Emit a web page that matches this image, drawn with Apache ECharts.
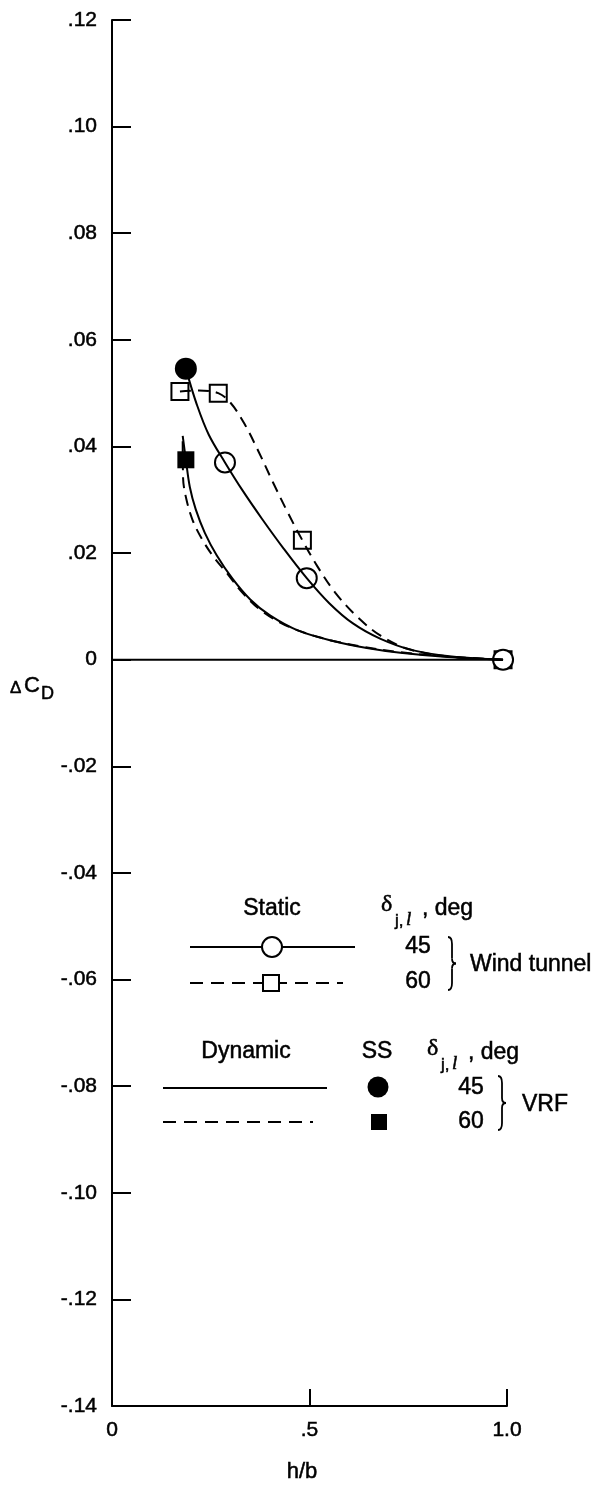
<!DOCTYPE html>
<html><head><meta charset="utf-8">
<script src="https://cdn.jsdelivr.net/npm/echarts@6/dist/echarts.min.js"></script>
<style>html,body{margin:0;padding:0;background:#fff}#c{width:611px;height:1489px}</style>
</head><body><div id="c"></div>
<script>
// ---- tick labels ----
const xTickValues = [0, 0.5, 1.0];
const xTickLabels = ['0', '.5', '1.0'];
const yTickValues = [-0.14, -0.12, -0.10, -0.08, -0.06, -0.04, -0.02, 0, 0.02, 0.04, 0.06, 0.08, 0.10, 0.12];
const yTickLabels = ['-.14', '-.12', '-.10', '-.08', '-.06', '-.04', '-.02', '0', '.02', '.04', '.06', '.08', '.10', '.12'];

// ---- measured points (h/b, dCD) ----
const static45Pts = [[0.286, 0.037], [0.493, 0.0153], [0.99, 0]];
const static60Pts = [[0.172, 0.0503], [0.269, 0.050], [0.482, 0.0224], [0.99, 0]];
const ss45Pts = [[0.187, 0.0546]];
const ss60Pts = [[0.187, 0.0375]];

// ---- faired curves ----
const static45Curve = [[0.19, 0.0538], [0.215, 0.0478], [0.245, 0.0422], [0.286, 0.037], [0.33, 0.0318], [0.38, 0.0264], [0.435, 0.0208], [0.493, 0.0153], [0.55, 0.0106], [0.61, 0.0068], [0.68, 0.0039], [0.76, 0.0018], [0.86, 0.0006], [0.99, 0]];
const static60Curve = [[0.172, 0.0503], [0.22, 0.0505], [0.269, 0.050], [0.30, 0.0482], [0.335, 0.0443], [0.37, 0.0392], [0.408, 0.0332], [0.445, 0.0276], [0.482, 0.0224], [0.52, 0.0175], [0.565, 0.0126], [0.62, 0.0081], [0.68, 0.0045], [0.75, 0.0020], [0.85, 0.0006], [0.99, 0]];
const dynamic45Curve = [[0.179, 0.042], [0.187, 0.0375], [0.197, 0.0324], [0.212, 0.0282], [0.235, 0.0238], [0.265, 0.0196], [0.305, 0.0152], [0.35, 0.0113], [0.40, 0.0083], [0.47, 0.0055], [0.56, 0.0035], [0.645, 0.0022], [0.73, 0.0013], [0.85, 0.0005], [0.99, 0]];
const dynamic60Curve = [[0.179, 0.041], [0.180, 0.034], [0.188, 0.0302], [0.204, 0.0262], [0.228, 0.0226], [0.257, 0.0193], [0.29, 0.0163], [0.33, 0.0126], [0.38, 0.0091], [0.45, 0.0061], [0.54, 0.0039], [0.63, 0.0025], [0.73, 0.0014], [0.85, 0.0006], [0.99, 0]];
const zeroLine = [[0, 0], [0.99, 0]];

const FONT = 'Liberation Sans';

function lookup(vals, labels, v) {
  let best = 0;
  for (let i = 0; i < vals.length; i++) if (Math.abs(vals[i] - v) < Math.abs(vals[best] - v)) best = i;
  return Math.abs(vals[best] - v) < 1e-6 ? labels[best] : '';
}

function txt(t, x, y, size, align, extra) {
  return { type: 'text', silent: true, z: 10, style: Object.assign({
    text: t, x: x, y: y, fill: '#000', fontSize: size, fontFamily: FONT,
    stroke: '#000', lineWidth: 0.5,
    textAlign: align || 'center', textVerticalAlign: 'middle', verticalAlign: 'middle'
  }, extra || {}) };
}
function seg(x1, y1, x2, y2, dash) {
  return { type: 'line', silent: true, z: 10, shape: { x1, y1, x2, y2 },
    style: { stroke: '#000', lineWidth: 2, lineDash: dash || null } };
}
function brace(x0, top, bot) {
  const mid = (top + bot) / 2, xm = x0 + 4, xt = x0 + 8;
  const st = { stroke: '#000', lineWidth: 1.8, fill: null };
  return [
    { type: 'bezierCurve', silent: true, z: 10, shape: { x1: x0, y1: top, cpx1: xm, cpy1: top, x2: xm, y2: top + 7 }, style: st },
    { type: 'line', silent: true, z: 10, shape: { x1: xm, y1: top + 7, x2: xm, y2: mid - 5 }, style: st },
    { type: 'bezierCurve', silent: true, z: 10, shape: { x1: xm, y1: mid - 5, cpx1: xm, cpy1: mid, x2: xt, y2: mid }, style: st },
    { type: 'bezierCurve', silent: true, z: 10, shape: { x1: xt, y1: mid, cpx1: xm, cpy1: mid, x2: xm, y2: mid + 5 }, style: st },
    { type: 'line', silent: true, z: 10, shape: { x1: xm, y1: mid + 5, x2: xm, y2: bot - 7 }, style: st },
    { type: 'bezierCurve', silent: true, z: 10, shape: { x1: xm, y1: bot - 7, cpx1: xm, cpy1: bot, x2: x0, y2: bot }, style: st }
  ];
}
function deltaLabel(x, y) {
  return [
    txt('\u03B4', x - 7, y - 3, 24, 'left', { fontFamily: 'Liberation Serif' }),
    txt('j,', x + 7, y + 13, 17, 'left'),
    txt('l', x + 18, y + 12, 19, 'left', { fontFamily: 'Liberation Serif', fontStyle: 'italic' }),
    txt(', deg', x + 34, y + 1, 23, 'left')
  ];
}

const graphics = [].concat(
  // static legend
  [txt('Static', 272, 909, 23)],
  deltaLabel(388, 908),
  [seg(190, 947, 355, 947),
   { type: 'circle', silent: true, z: 11, shape: { cx: 272, cy: 947, r: 10 }, style: { fill: '#fff', stroke: '#000', lineWidth: 2 } },
   txt('45', 418, 947, 23),
   seg(190, 983, 343, 983, [13, 8]),
   { type: 'rect', silent: true, z: 11, shape: { x: 263, y: 975, width: 16, height: 16 }, style: { fill: '#fff', stroke: '#000', lineWidth: 2 } },
   txt('60', 418, 982, 23),
   txt('Wind tunnel', 470, 965, 23, 'left')],
  brace(448, 937, 990),
  // dynamic legend
  [txt('Dynamic', 246, 1052, 23), txt('SS', 377, 1052, 23)],
  deltaLabel(434, 1052),
  [seg(163, 1088, 327, 1088),
   { type: 'circle', silent: true, z: 11, shape: { cx: 378, cy: 1087, r: 10.5 }, style: { fill: '#000' } },
   txt('45', 471, 1088, 23),
   seg(163, 1122, 313, 1122, [13, 8]),
   { type: 'rect', silent: true, z: 11, shape: { x: 371, y: 1114, width: 16, height: 16 }, style: { fill: '#000' } },
   txt('60', 471, 1122, 23),
   txt('VRF', 522, 1105, 23, 'left')],
  brace(498, 1076, 1130),
  // axis titles
  [txt('\u0394', 10, 688, 17, 'left'),
   txt('C', 24, 686, 22, 'left'),
   txt('D', 41, 694, 18, 'left'),
   txt('h/b', 302, 1472, 22)]
);

const black = { color: '#000', width: 2 };
const labelStyle = { color: '#000', fontSize: 21, fontFamily: FONT, textBorderColor: '#000', textBorderWidth: 0.5 };
const chart = echarts.init(document.getElementById('c'), null, { renderer: 'canvas' });
chart.setOption({
  animation: false,
  backgroundColor: '#fff',
  grid: { left: 112, right: 104, top: 20, bottom: 83, containLabel: false, outerBoundsMode: 'none' },
  xAxis: {
    type: 'value', min: 0, max: 1, interval: 0.5,
    axisLine: { show: true, onZero: false, lineStyle: black },
    axisTick: { show: true, inside: true, length: 17, lineStyle: black },
    splitLine: { show: false },
    axisLabel: Object.assign({ margin: 14, formatter: v => lookup(xTickValues, xTickLabels, v) }, labelStyle)
  },
  yAxis: {
    type: 'value', min: -0.14, max: 0.12, interval: 0.02,
    axisLine: { show: true, onZero: false, lineStyle: black },
    axisTick: { show: true, inside: true, length: 19, lineStyle: black },
    splitLine: { show: false },
    axisLabel: Object.assign({ margin: 15, formatter: v => lookup(yTickValues, yTickLabels, v) }, labelStyle)
  },
  graphic: graphics,
  series: [
    { type: 'line', data: zeroLine, symbol: 'none', lineStyle: black, silent: true },
    { type: 'line', data: static45Curve, smooth: 0.35, symbol: 'none', lineStyle: { color: '#000', width: 2 }, silent: true },
    { type: 'line', data: static60Curve, smooth: 0.35, symbol: 'none', lineStyle: { color: '#000', width: 2, type: [11, 7] }, silent: true },
    { type: 'line', data: dynamic45Curve, smooth: 0.35, symbol: 'none', lineStyle: { color: '#000', width: 2 }, silent: true },
    { type: 'line', data: dynamic60Curve, smooth: 0.35, symbol: 'none', lineStyle: { color: '#000', width: 2, type: [11, 7] }, silent: true },
    { type: 'scatter', data: static60Pts, symbol: 'rect', symbolSize: 17, itemStyle: { color: '#fff', borderColor: '#000', borderWidth: 2, opacity: 1 }, silent: true },
    { type: 'scatter', data: static45Pts, symbol: 'circle', symbolSize: 20, itemStyle: { color: '#fff', borderColor: '#000', borderWidth: 2, opacity: 1 }, silent: true },
    { type: 'scatter', data: ss60Pts, symbol: 'rect', symbolSize: 17, itemStyle: { color: '#000', opacity: 1 }, silent: true },
    { type: 'scatter', data: ss45Pts, symbol: 'circle', symbolSize: 22, itemStyle: { color: '#000', opacity: 1 }, silent: true }
  ]
});
</script></body></html>
